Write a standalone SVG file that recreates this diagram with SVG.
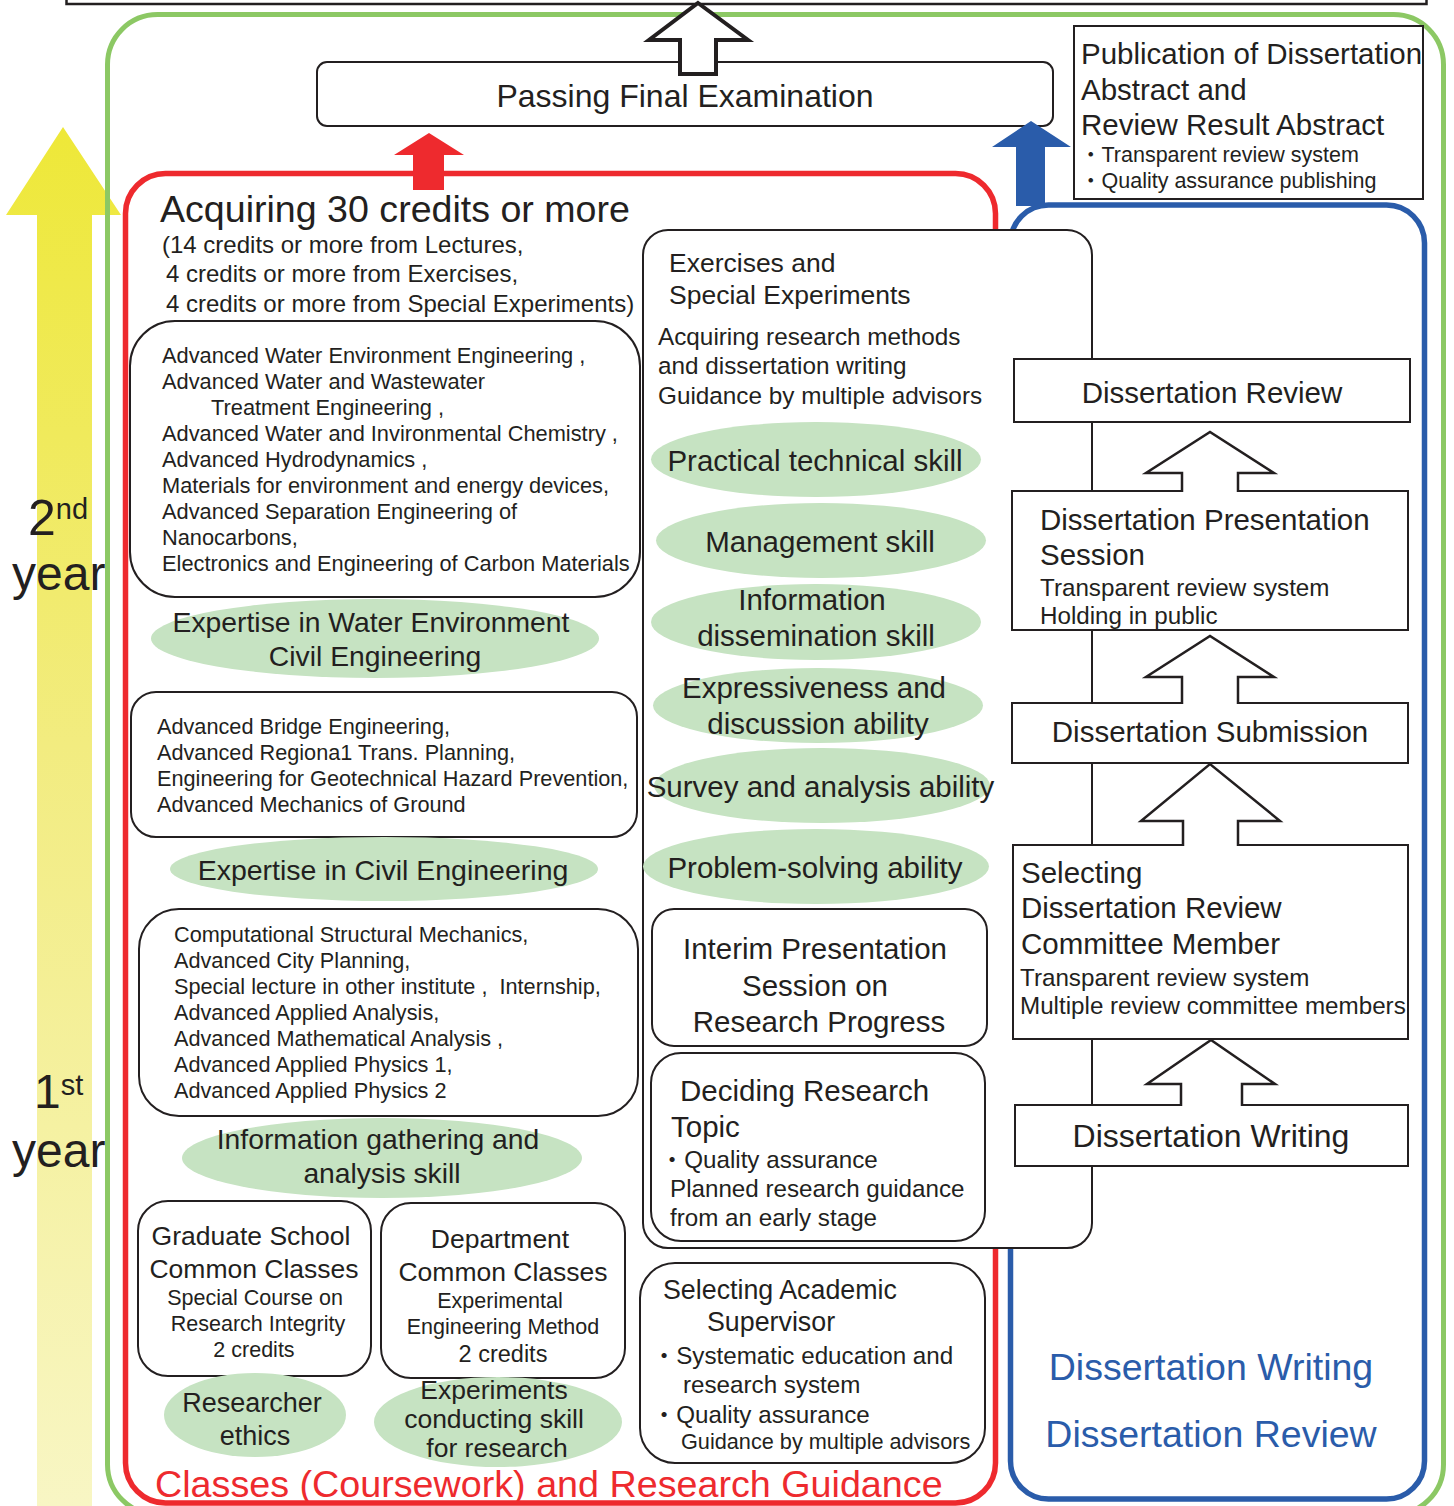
<svg xmlns="http://www.w3.org/2000/svg" width="1454" height="1506" viewBox="0 0 1454 1506">
<style>
.t{font-family:'Liberation Sans',Arial,'Noto Sans CJK JP',sans-serif;fill:#231f20}
.c{text-anchor:middle}
.box{fill:#fff;stroke:#231f20;stroke-width:2}
.ell{fill:#c6e3c2}
.arr{fill:none;stroke:#231f20;stroke-width:2.5;stroke-linejoin:miter}
</style>
<defs>
<linearGradient id="yg" x1="0" y1="127" x2="0" y2="1506" gradientUnits="userSpaceOnUse">
<stop offset="0" stop-color="#eee838"/>
<stop offset="0.45" stop-color="#f2ec80"/>
<stop offset="1" stop-color="#f8f6c4"/>
</linearGradient>
</defs>

<g id="year-arrow">
<polygon points="63,127 121,215 92,215 92,1506 37,1506 37,215 6,215" fill="url(#yg)"/>
</g>
<g id="year-labels">
<text class="t" x="28" y="535" font-size="50">2<tspan font-size="29" dy="-16">nd</tspan></text>
<text class="t" x="12" y="590" font-size="48">year</text>
<text class="t" x="34" y="1108" font-size="48">1<tspan font-size="29" dy="-13">st</tspan></text>
<text class="t" x="12" y="1167" font-size="48">year</text>
</g>

<g id="top-box"><rect x="66.5" y="-20" width="1360" height="24" fill="none" stroke="#231f20" stroke-width="2.5"/></g>

<g id="frame-green"><rect x="107.5" y="14.5" width="1336" height="1500" rx="50" fill="none" stroke="#8cc864" stroke-width="5"/></g>
<g id="frame-red"><rect x="125.5" y="173.5" width="870" height="1329.5" rx="40" fill="none" stroke="#ee2a2e" stroke-width="5.5"/></g>
<g id="frame-blue"><rect x="1010.5" y="205" width="414" height="1294" rx="38" fill="none" stroke="#2a5caa" stroke-width="5.5"/></g>

<g id="passing-final">
<rect class="box" x="317" y="62" width="736" height="64" rx="10"/>
<text class="t c" x="685" y="107" font-size="32">Passing Final Examination</text>
</g>

<g id="publication">
<rect class="box" x="1074" y="26" width="349" height="173"/>
<text class="t" x="1081" y="64" font-size="29.5">Publication of Dissertation</text>
<text class="t" x="1081" y="100" font-size="29.5">Abstract and</text>
<text class="t" x="1081" y="135" font-size="29.5">Review Result Abstract</text>
<text class="t" x="1080" y="162" font-size="21.5">・Transparent review system</text>
<text class="t" x="1080" y="188" font-size="21.5">・Quality assurance publishing</text>
</g>

<g id="connectors">
<polygon points="698,3 748,40 716,40 716,74 680,74 680,40 649,40" fill="#fff" stroke="#231f20" stroke-width="4"/>
<polygon points="429,133 464,155 444,155 444,190 413,190 413,155 394,155" fill="#ee2a2e"/>
<polygon points="1031,121 1071,147 1045,147 1045,206 1016,206 1016,147 992,147" fill="#2a5caa"/>
</g>

<g id="credits-heading">
<text class="t" x="160" y="222" font-size="37.6">Acquiring 30 credits or more</text>
<text class="t" x="162" y="253" font-size="24">(14 credits or more from Lectures,</text>
<text class="t" x="166" y="282" font-size="24">4 credits or more from Exercises,</text>
<text class="t" x="166" y="312" font-size="24">4 credits or more from Special Experiments)</text>
</g>

<g id="lectures-water">
<rect class="box" x="130" y="321" width="510" height="276" rx="45"/>
<text class="t" font-size="21.8">
<tspan x="162" y="363">Advanced Water Environment Engineering ,</tspan>
<tspan x="162" y="389">Advanced Water and Wastewater</tspan>
<tspan x="211" y="415">Treatment Engineering ,</tspan>
<tspan x="162" y="441">Advanced Water and Invironmental Chemistry ,</tspan>
<tspan x="162" y="467">Advanced Hydrodynamics ,</tspan>
<tspan x="162" y="493">Materials for environment and energy devices,</tspan>
<tspan x="162" y="519">Advanced Separation Engineering of</tspan>
<tspan x="162" y="545">Nanocarbons,</tspan>
<tspan x="162" y="571">Electronics and Engineering of Carbon Materials</tspan>
</text>
</g>

<g id="skill-water">
<ellipse class="ell" cx="375" cy="638.5" rx="224" ry="39.5"/>
<text class="t c" x="371" y="632" font-size="28.3">Expertise in Water Environment</text>
<text class="t c" x="375" y="666" font-size="28.3">Civil Engineering</text>
</g>

<g id="lectures-civil">
<rect class="box" x="131" y="692" width="506" height="145" rx="25"/>
<text class="t" font-size="21.7">
<tspan x="157" y="734">Advanced Bridge Engineering,</tspan>
<tspan x="157" y="760">Advanced Regiona1 Trans. Planning,</tspan>
<tspan x="157" y="786">Engineering for Geotechnical Hazard Prevention,</tspan>
<tspan x="157" y="812">Advanced Mechanics of Ground</tspan>
</text>
</g>

<g id="skill-civil">
<ellipse class="ell" cx="384" cy="869" rx="214" ry="32"/>
<text class="t c" x="383" y="880" font-size="28.5">Expertise in Civil Engineering</text>
</g>

<g id="lectures-common">
<rect class="box" x="139" y="909" width="499" height="207" rx="40"/>
<text class="t" font-size="21.7" xml:space="preserve"><tspan x="174" y="942">Computational Structural Mechanics,</tspan><tspan x="174" y="968">Advanced City Planning,</tspan><tspan x="174" y="994">Special lecture in other institute ,  Internship,</tspan><tspan x="174" y="1020">Advanced Applied Analysis,</tspan><tspan x="174" y="1046">Advanced Mathematical Analysis ,</tspan><tspan x="174" y="1072">Advanced Applied Physics 1,</tspan><tspan x="174" y="1098">Advanced Applied Physics 2</tspan></text>
</g>

<g id="skill-info-gathering">
<ellipse class="ell" cx="382" cy="1158" rx="200" ry="40"/>
<text class="t c" x="378" y="1149" font-size="28.3">Information gathering and</text>
<text class="t c" x="382" y="1183" font-size="28.3">analysis skill</text>
</g>

<g id="gs-common">
<rect class="box" x="138" y="1201" width="233" height="175" rx="30"/>
<text class="t c" x="251" y="1245" font-size="26.5">Graduate School</text>
<text class="t c" x="254" y="1278" font-size="26.5">Common Classes</text>
<text class="t c" x="255" y="1305" font-size="21.5">Special Course on</text>
<text class="t c" x="258" y="1331" font-size="21.5">Research Integrity</text>
<text class="t c" x="254" y="1357" font-size="21.5">2 credits</text>
</g>

<g id="dept-common">
<rect class="box" x="381" y="1203" width="244" height="175" rx="30"/>
<text class="t c" x="500" y="1248" font-size="26.5">Department</text>
<text class="t c" x="503" y="1281" font-size="26.5">Common Classes</text>
<text class="t c" x="500" y="1308" font-size="21.5">Experimental</text>
<text class="t c" x="503" y="1334" font-size="21.5">Engineering Method</text>
<text class="t c" x="503" y="1362" font-size="23.5">2 credits</text>
</g>

<g id="skill-ethics">
<ellipse class="ell" cx="255" cy="1415" rx="91" ry="42"/>
<text class="t c" x="252" y="1412" font-size="27">Researcher</text>
<text class="t c" x="255" y="1445" font-size="27">ethics</text>
</g>

<g id="skill-experiments">
<ellipse class="ell" cx="498" cy="1422" rx="124" ry="45"/>
<text class="t c" x="494" y="1399" font-size="26.5">Experiments</text>
<text class="t c" x="494" y="1428" font-size="26.5">conducting skill</text>
<text class="t c" x="497" y="1457" font-size="26.5">for research</text>
</g>

<g id="red-label">
<text x="155" y="1497" font-size="37.7" fill="#ee2a2e" font-family="'Liberation Sans',Arial,sans-serif">Classes (Coursework) and Research Guidance</text>
</g>

<g id="exercises">
<rect class="box" x="643" y="230" width="449" height="1018" rx="25"/>
<text class="t" x="669" y="272" font-size="26.5">Exercises and</text>
<text class="t" x="669" y="304" font-size="26.5">Special Experiments</text>
<text class="t" x="658" y="345" font-size="24.3">Acquiring research methods</text>
<text class="t" x="658" y="374" font-size="24.3">and dissertation writing</text>
<text class="t" x="658" y="404" font-size="24.3">Guidance by multiple advisors</text>
</g>

<g id="skill-practical">
<ellipse class="ell" cx="816" cy="459.5" rx="165" ry="37.5"/>
<text class="t c" x="815" y="471" font-size="29.5">Practical technical skill</text>
</g>
<g id="skill-management">
<ellipse class="ell" cx="821" cy="540.5" rx="165" ry="37.5"/>
<text class="t c" x="820" y="552" font-size="29.5">Management skill</text>
</g>
<g id="skill-dissemination">
<ellipse class="ell" cx="816" cy="622" rx="165" ry="38"/>
<text class="t c" x="812" y="610" font-size="29.5">Information</text>
<text class="t c" x="816" y="646" font-size="29.5">dissemination skill</text>
</g>
<g id="skill-expressiveness">
<ellipse class="ell" cx="818" cy="705.5" rx="165" ry="37.5"/>
<text class="t c" x="814" y="698" font-size="29.5">Expressiveness and</text>
<text class="t c" x="818" y="734" font-size="29.5">discussion ability</text>
</g>
<g id="skill-survey">
<ellipse class="ell" cx="822" cy="785.5" rx="168" ry="37.5"/>
<text class="t c" x="820.5" y="797" font-size="29.5">Survey and analysis ability</text>
</g>
<g id="skill-problem">
<ellipse class="ell" cx="816" cy="866.5" rx="173" ry="37.5"/>
<text class="t c" x="815" y="878" font-size="29.5">Problem-solving ability</text>
</g>

<g id="interim">
<rect class="box" x="652" y="909" width="335" height="137" rx="22"/>
<text class="t c" x="815" y="959" font-size="29.5">Interim Presentation</text>
<text class="t c" x="815" y="996" font-size="29.5">Session on</text>
<text class="t c" x="819" y="1032" font-size="29.5">Research Progress</text>
</g>

<g id="deciding-topic">
<rect class="box" x="651" y="1053" width="334" height="188" rx="30"/>
<text class="t" x="680" y="1101" font-size="29.5">Deciding Research</text>
<text class="t" x="671" y="1137" font-size="29.5">Topic</text>
<text class="t" x="660" y="1168" font-size="24.2">・Quality assurance</text>
<text class="t" x="670" y="1197" font-size="24.2">Planned research guidance</text>
<text class="t" x="670" y="1226" font-size="24.2">from an early stage</text>
</g>

<g id="selecting-supervisor">
<rect class="box" x="640" y="1263" width="345" height="200" rx="35"/>
<text class="t" x="663" y="1299" font-size="26.8">Selecting Academic</text>
<text class="t" x="707" y="1331" font-size="26.8">Supervisor</text>
<text class="t" x="652" y="1364" font-size="24.2">・Systematic education and</text>
<text class="t" x="683" y="1393" font-size="24.2">research system</text>
<text class="t" x="652" y="1423" font-size="24.2">・Quality assurance</text>
<text class="t" x="681" y="1449" font-size="21.7">Guidance by multiple advisors</text>
</g>

<g id="diss-review">
<rect class="box" x="1014" y="359" width="396" height="63"/>
<text class="t c" x="1212" y="403" font-size="29.5">Dissertation Review</text>
</g>
<g id="diss-presentation">
<rect class="box" x="1012" y="491" width="396" height="139"/>
<text class="t" x="1040" y="530" font-size="29.5">Dissertation Presentation</text>
<text class="t" x="1040" y="565" font-size="29.5">Session</text>
<text class="t" x="1040" y="596" font-size="24.2">Transparent review system</text>
<text class="t" x="1040" y="624" font-size="24.2">Holding in public</text>
</g>
<g id="diss-submission">
<rect class="box" x="1012" y="703" width="396" height="60"/>
<text class="t c" x="1210" y="742" font-size="29.5">Dissertation Submission</text>
</g>
<g id="diss-committee">
<rect class="box" x="1013" y="845" width="395" height="194"/>
<text class="t" x="1021" y="883" font-size="29.5">Selecting</text>
<text class="t" x="1021" y="918" font-size="29.5">Dissertation Review</text>
<text class="t" x="1021" y="954" font-size="29.5">Committee Member</text>
<text class="t" x="1020" y="986" font-size="24.2">Transparent review system</text>
<text class="t" x="1020" y="1014" font-size="24.2">Multiple review committee members</text>
</g>
<g id="diss-writing">
<rect class="box" x="1015" y="1105" width="393" height="61"/>
<text class="t c" x="1211" y="1147" font-size="32">Dissertation Writing</text>
</g>

<g id="flow-arrows">
<polygon points="1182,493 1182,473 1146,473 1210,432 1274,473 1238,473 1238,493" fill="#fff"/>
<polyline class="arr" points="1182,492 1182,473 1146,473 1210,432 1274,473 1238,473 1238,492"/>
<polygon points="1182,705 1182,677 1146,677 1210,636 1274,677 1238,677 1238,705" fill="#fff"/>
<polyline class="arr" points="1182,704 1182,677 1146,677 1210,636 1274,677 1238,677 1238,704"/>
<polygon points="1183,847 1183,821 1141,821 1210,764 1280,821 1238,821 1238,847" fill="#fff"/>
<polyline class="arr" points="1183,846 1183,821 1141,821 1210,764 1280,821 1238,821 1238,846"/>
<polygon points="1181,1107 1181,1084 1147,1084 1211,1040 1275,1084 1242,1084 1242,1107" fill="#fff"/>
<polyline class="arr" points="1181,1106 1181,1084 1147,1084 1211,1040 1275,1084 1242,1084 1242,1106"/>
</g>

<g id="blue-label">
<text x="1211" y="1380" font-size="37.5" fill="#2a5caa" text-anchor="middle" font-family="'Liberation Sans',Arial,sans-serif">Dissertation Writing</text>
<text x="1211" y="1447" font-size="37.5" fill="#2a5caa" text-anchor="middle" font-family="'Liberation Sans',Arial,sans-serif">Dissertation Review</text>
</g>
</svg>
